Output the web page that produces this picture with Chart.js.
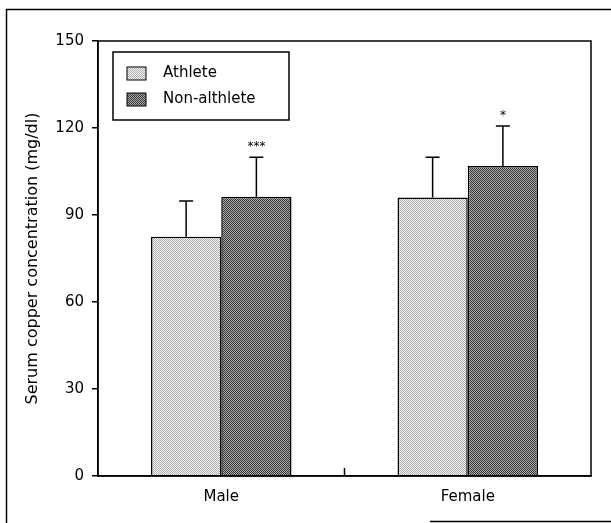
<!DOCTYPE html>
<html>
<head>
<meta charset="utf-8">
<title>Serum copper concentration</title>
<script src="https://cdn.jsdelivr.net/npm/chart.js@4/dist/chart.umd.min.js"></script>
<style>
  body { margin: 0; background: #fff; }
  #chart { display: block; }
</style>
</head>
<body>
<canvas id="chart" width="611" height="523"></canvas>
<script>
// Chart data
var categories = ["Male", "Female"];
var seriesNames = ["Athlete", "Non-althlete"];
var athleteMeans = [82.5, 96.0];
var athleteSd = [12.3, 13.9];
var nonAthleteMeans = [96.3, 106.9];
var nonAthleteSd = [13.6, 13.8];
var athleteMarks = ["", ""];
var nonAthleteMarks = ["***", "*"];
var yTicks = [0, 30, 60, 90, 120, 150];

Chart.defaults.font.family = "'DejaVu Sans', sans-serif";
Chart.defaults.color = '#000';

var canvas = document.getElementById('chart');
var ctx = canvas.getContext('2d');

// dithered fills, like the scanned print
function makePattern(light, dark) {
    var c = document.createElement('canvas');
    c.width = 4;
    c.height = 4;
    var g = c.getContext('2d');
    g.fillStyle = light;
    g.fillRect(0, 0, 4, 4);
    g.fillStyle = dark;
    for (var y = 0; y < 4; y++) {
        for (var x = 0; x < 4; x++) {
            if ((x + y) % 2 === 0) g.fillRect(x, y, 1, 1);
        }
    }
    return ctx.createPattern(c, 'repeat');
}

var athleteFill = makePattern('#f2f2f2', '#b0b0b0');
var nonAthleteFill = makePattern('#a8a8a8', '#383838');

var errors = [athleteSd, nonAthleteSd];
var marks = [athleteMarks, nonAthleteMarks];

// outer frame of the figure
var framePlugin = {
    id: 'frame',
    beforeDraw: function(chart) {
        var c = chart.ctx;
        c.save();
        c.strokeStyle = '#000';
        c.lineWidth = 1.5;
        c.beginPath();
        c.moveTo(6.5, 523);
        c.lineTo(6.5, 9.5);
        c.lineTo(611, 9.5);
        c.moveTo(430, 521.5);
        c.lineTo(611, 521.5);
        c.stroke();
        c.restore();
    }
};

// box round the plot + middle tick
var boxPlugin = {
    id: 'box',
    afterDraw: function(chart) {
        var a = chart.chartArea;
        var xs = chart.scales.x;
        var c = chart.ctx;
        c.save();
        c.strokeStyle = '#000';
        c.lineWidth = 1.5;
        c.strokeRect(a.left, a.top, a.right - a.left, a.bottom - a.top);
        var mid = (xs.getPixelForValue(0) + xs.getPixelForValue(1)) / 2;
        c.beginPath();
        c.moveTo(mid, a.bottom);
        c.lineTo(mid, a.bottom - 8);
        c.stroke();
        c.restore();
    }
};

// error bars (upper only) and significance stars
var errorBarPlugin = {
    id: 'errorBars',
    afterDatasetsDraw: function(chart) {
        var c = chart.ctx;
        var ys = chart.scales.y;
        c.save();
        c.strokeStyle = '#000';
        c.lineWidth = 1.5;
        c.fillStyle = '#000';
        c.font = "12px 'DejaVu Sans'";
        c.textAlign = 'center';
        c.textBaseline = 'middle';
        chart.data.datasets.forEach(function(ds, d) {
            var meta = chart.getDatasetMeta(d);
            meta.data.forEach(function(bar, i) {
                var top = ys.getPixelForValue(ds.data[i] + errors[d][i]);
                c.beginPath();
                c.moveTo(bar.x, bar.y);
                c.lineTo(bar.x, top);
                c.moveTo(bar.x - 7, top);
                c.lineTo(bar.x + 7, top);
                c.stroke();
                if (marks[d][i]) c.fillText(marks[d][i], bar.x, top - 10);
            });
        });
        c.restore();
    }
};

// legend drawn inside the plot area
var legendPlugin = {
    id: 'insideLegend',
    afterDraw: function(chart) {
        var a = chart.chartArea;
        var c = chart.ctx;
        var x = a.left + 15;
        var y = a.top + 11;
        c.save();
        c.fillStyle = '#fff';
        c.fillRect(x, y, 176, 68);
        c.strokeStyle = '#000';
        c.lineWidth = 1.5;
        c.strokeRect(x, y, 176, 68);
        c.font = "15px 'DejaVu Sans'";
        c.textBaseline = 'middle';
        chart.data.datasets.forEach(function(ds, d) {
            var rowY = y + 21 + d * 26;
            c.fillStyle = ds.backgroundColor;
            c.fillRect(x + 14, rowY - 6, 19, 13);
            c.lineWidth = 1;
            c.strokeRect(x + 14, rowY - 6, 19, 13);
            c.fillStyle = '#000';
            c.fillText(ds.label, x + 50, rowY);
        });
        c.restore();
    }
};

var myChart = new Chart(ctx, {
    type: 'bar',
    data: {
        labels: categories,
        datasets: [{
            label: seriesNames[0],
            data: athleteMeans,
            backgroundColor: athleteFill,
            borderColor: '#000',
            borderWidth: 1.5
        }, {
            label: seriesNames[1],
            data: nonAthleteMeans,
            backgroundColor: nonAthleteFill,
            borderColor: '#000',
            borderWidth: 1.5
        }]
    },
    options: {
        responsive: false,
        animation: false,
        layout: { padding: { top: 41, right: 20, left: 0, bottom: 0 } },
        plugins: {
            legend: { display: false },
            tooltip: { enabled: false }
        },
        datasets: {
            bar: { categoryPercentage: 0.57, barPercentage: 1.0 }
        },
        scales: {
            x: {
                afterFit: function(scale) { scale.height = 47; },
                grid: { display: false, drawTicks: false },
                border: { display: true, color: '#000', width: 1.5 },
                ticks: { padding: 12, font: { size: 15 } }
            },
            y: {
                min: 0,
                max: 150,
                afterFit: function(scale) { scale.width = 98; },
                afterBuildTicks: function(axis) {
                    axis.ticks = yTicks.map(function(v) { return { value: v }; });
                },
                grid: { drawOnChartArea: false, color: '#000', lineWidth: 1.5, tickLength: 6 },
                border: { display: true, color: '#000', width: 1.5 },
                ticks: { padding: 8, font: { size: 15 } },
                title: {
                    display: true,
                    text: 'Serum copper concentration (mg/dl)',
                    font: { size: 16 },
                    padding: { top: 23, bottom: 0 }
                }
            }
        }
    },
    plugins: [framePlugin, boxPlugin, errorBarPlugin, legendPlugin]
});
</script>
</body>
</html>
